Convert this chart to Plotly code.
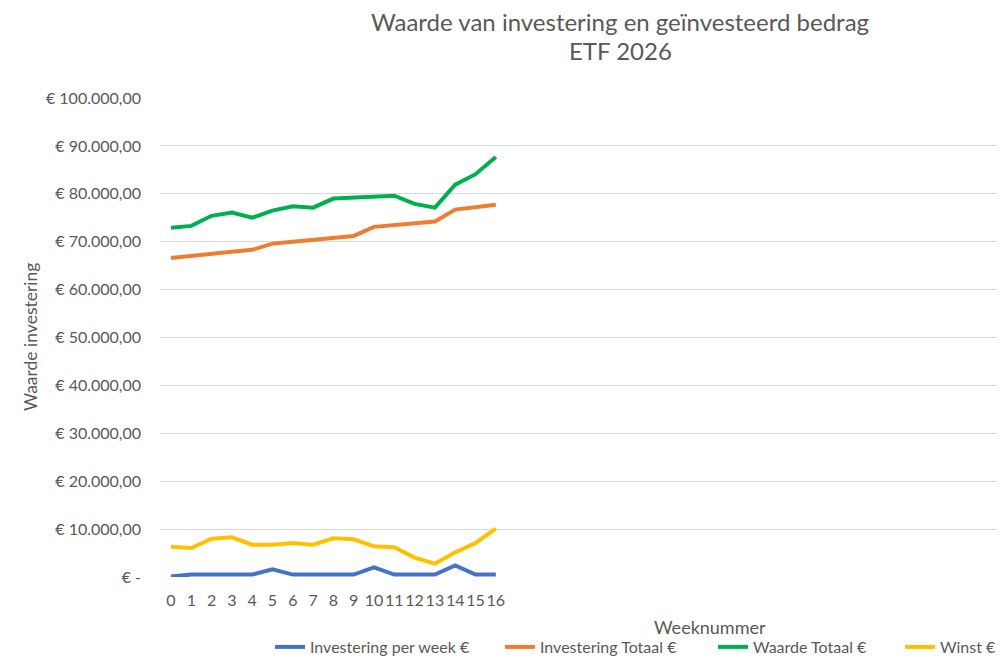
import plotly.graph_objects as go

# weeks 0..16 have data; the axis runs on to week 52 (empty)
weeks = list(range(17))
investering_per_week = [100, 500, 500, 500, 500, 1600, 500, 500, 500, 500, 2000, 500, 500, 500, 2400, 500, 500]
investering_totaal = [66600, 67100, 67500, 67900, 68300, 69600, 70000, 70400, 70800, 71200,
                      73100, 73500, 73900, 74200, 76700, 77300, 77700]
waarde_totaal = [72900, 73300, 75400, 76100, 75000, 76500, 77400, 77100, 79000, 79200,
                 79400, 79600, 77900, 77100, 81900, 84100, 87700]
winst = [6330, 6050, 8000, 8280, 6750, 6750, 7100, 6750, 8070, 7860,
         6400, 6200, 4040, 2780, 5150, 7100, 10090]

y_ticks = list(range(0, 100001, 10000))
y_labels = ["€ -"] + [f"€ {v:,.2f}".replace(",", "X").replace(".", ",").replace("X", ".") for v in y_ticks[1:]]

grey = "#595959"
font = "Lato"

series = [
    ("Investering per week €", investering_per_week, "#4472C4", 185),
    ("Investering Totaal €", investering_totaal, "#ED7D31", 168),
    ("Waarde Totaal €", waarde_totaal, "#00B050", 142),
    ("Winst €", winst, "#FFC000", 54),
]

fig = go.Figure()
for name, vals, color, lw in series:
    fig.add_trace(go.Scatter(x=weeks, y=vals, mode="lines", name=name,
                             line=dict(color=color, width=4), legendwidth=lw))

# page is drawn 8px in from the window corner, so size is 997x656
W, H = 997, 656
L, T, B = 152, 90, 87
pw, ph = W - L, H - T - B


def px(x):
    return (x - 8 - L) / pw


def py(y):
    return 1 - (y - 8 - T) / ph


fig.update_layout(
    width=W, height=H,
    margin=dict(l=L, r=0, t=T, b=B),
    paper_bgcolor="white", plot_bgcolor="white",
    font=dict(family=font, color=grey, size=16),
    showlegend=True,
    legend=dict(orientation="h", x=px(270), xanchor="left",
                y=py(647), yanchor="middle", font=dict(size=16, color=grey),
                itemwidth=30),
)
fig.update_xaxes(range=[-0.54, 41.08], tickvals=weeks, ticktext=[str(w) for w in weeks],
                 tickangle=0, showgrid=False, zeroline=False, showline=False, ticks="",
                 ticklabelstandoff=12, tickfont=dict(size=16, color=grey))
fig.update_yaxes(range=[0, 100000], tickvals=y_ticks, ticktext=y_labels,
                 showgrid=True, gridcolor="#D9D9D9", gridwidth=1, zeroline=False,
                 showline=False, ticks="", ticklabelstandoff=18,
                 tickfont=dict(size=16, color=grey))

fig.add_annotation(text="Waarde van investering en geïnvesteerd bedrag", xref="paper", yref="paper",
                   x=px(620), y=py(22), xanchor="center", yanchor="middle",
                   showarrow=False, font=dict(size=24, color=grey))
fig.add_annotation(text="ETF 2026", xref="paper", yref="paper",
                   x=px(620), y=py(51), xanchor="center", yanchor="middle",
                   showarrow=False, font=dict(size=24, color=grey))
fig.add_annotation(text="Weeknummer", xref="paper", yref="paper",
                   x=px(710), y=py(627), xanchor="center", yanchor="middle",
                   showarrow=False, font=dict(size=18, color=grey))
fig.add_annotation(text="Waarde investering", xref="paper", yref="paper",
                   x=px(30), y=py(337), textangle=-90, xanchor="center",
                   yanchor="middle", showarrow=False, font=dict(size=17.5, color=grey))

fig.write_html("out.html")
